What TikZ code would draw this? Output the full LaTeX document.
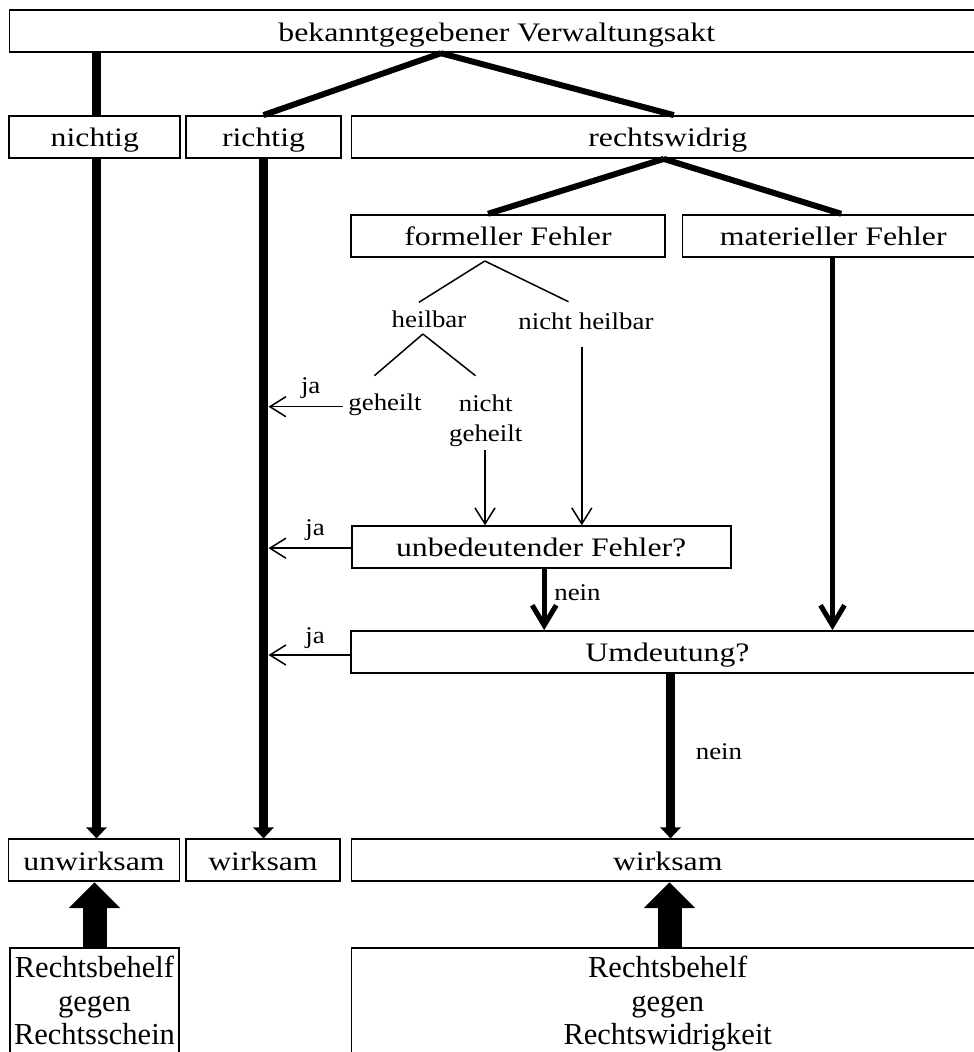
\documentclass[tikz,border=0pt]{standalone}
\usepackage{fontspec}
\setmainfont{Liberation Serif}[FakeStretch=1.19]
\newfontfamily\smallserif{Liberation Serif}[FakeStretch=1.12]
\newfontfamily\plainserif{Liberation Serif}
\usetikzlibrary{arrows.meta}
\newcommand\bigf{\fontsize{26.7}{33}\selectfont}
\newcommand\midf{\plainserif\fontsize{30.5}{33.7}\selectfont}
\newcommand\smf{\smallserif\fontsize{24}{30}\selectfont}
\begin{document}
\begin{tikzpicture}[x=1pt,y=-1pt,
  box/.style={draw, line width=1.8pt, inner sep=0pt, font=\bigf, text height=21pt, text depth=1.5pt, minimum height=42pt},
  rbox/.style={draw, line width=1.8pt, inner xsep=0pt, inner ysep=8.2pt, font=\midf, align=center, anchor=north},
  lbl/.style={font=\smf, inner sep=0pt, anchor=base},
  heavy/.style={line width=9pt, -{Triangle[width=20pt,length=11pt]}},
  bar/.style={line width=9pt},
  branch/.style={line width=6pt},
  twig/.style={line width=1.5pt},
  thinarrow/.style={line width=1.5pt, -{Straight Barb[width=20pt,length=16pt]}},
  midarrow/.style={line width=5pt, -{Straight Barb[width=24pt,length=20pt]}},
  block/.style={line width=24pt, -{Triangle[width=50pt,length=26pt]}},
]
\useasboundingbox (0,0) rectangle (974,1052);
\clip (0,0) rectangle (974,1052);

% boxes
\node[box, minimum width=974.5pt] (top) at (496.75,31.3) {bekanntgegebener Verwaltungsakt};
\node[box, minimum width=171pt] (nichtig) at (94.8,137) {nichtig};
\node[box, minimum width=155pt] (richtig) at (263.5,137) {richtig};
\node[box, minimum width=632.5pt] (rw) at (667.75,137) {rechtswidrig};
\node[box, minimum width=313.4pt] (ff) at (508,235.7) {formeller Fehler};
\node[box, minimum width=301.5pt] (mf) at (833.25,235.7) {materieller Fehler};
\node[box, minimum width=379pt] (ub) at (541.2,547.2) {unbedeutender Fehler?};
\node[box, minimum width=633pt] (ud) at (667.5,652) {Umdeutung?};
\node[box, minimum width=171pt] (unw) at (94,860.3) {unwirksam};
\node[box, minimum width=154pt] (wk1) at (263,860.3) {wirksam};
\node[box, minimum width=632.5pt] (wk2) at (667.75,860.3) {wirksam};
\node[rbox, minimum width=169pt] (rb1) at (94.5,947) {Rechtsbehelf\\gegen\\Rechtsschein\rule[-40pt]{0pt}{40pt}};
\node[rbox, minimum width=632.5pt] (rb2) at (667.75,947) {Rechtsbehelf\\gegen\\Rechtswidrigkeit\rule[-40pt]{0pt}{40pt}};

% labels
\node[lbl] (heil) at (429,327.5) {heilbar};
\node[lbl] (nh) at (585.9,329.5) {nicht heilbar};
\node[lbl] (geh) at (385,410.7) {geheilt};
\node[lbl, anchor=north, align=center] (ngh) at (485.7,394.3) {nicht\\geheilt};
\node[lbl] (ja1) at (310.7,393.3) {ja};
\node[lbl] (ja2) at (315,535) {ja};
\node[lbl] (ja3) at (315,643.3) {ja};
\node[lbl] (nein1) at (577.5,600.7) {nein};
\node[lbl] (nein2) at (719,759.3) {nein};

% helper coordinates
\coordinate (xL) at (96.5,0);
\coordinate (xR) at (263.5,0);
\coordinate (xRe) at (268.5,0);
\coordinate (a1) at ([xshift=-55.75pt]top.south);
\coordinate (a2) at ([xshift=-4pt]rw.south);
\coordinate (a3) at (484.8,261);
\coordinate (t1) at (418.9,302.3);
\coordinate (t2) at (568.5,301.7);
\coordinate (a4) at (422.9,334);
\coordinate (t3) at (374.4,375.7);
\coordinate (t4) at (475.5,375.7);
\coordinate (g0) at (342.7,406.7);
\coordinate (ng0) at (485,449.5);
\coordinate (nh0) at (581.8,346.7);

% thick connectors
\draw[bar] (xL |- top.south) -- (xL |- nichtig.north);
\draw[heavy] (xL |- nichtig.south) -- (xL |- unw.north);
\draw[heavy] (xR |- richtig.south) -- (xR |- wk1.north);
\draw[branch] (a1) -- (richtig.north);
\draw[branch] (a1) -- ([xshift=6pt]rw.north);
\draw[branch] (a2) -- ([xshift=-20pt]ff.north);
\draw[branch] (a2) -- ([xshift=8pt]mf.north);

% thin tree
\draw[twig] (a3) -- (t1);
\draw[twig] (a3) -- (t2);
\draw[twig] (a4) -- (t3);
\draw[twig] (a4) -- (t4);

% arrows
\draw[thinarrow] (g0) -- (g0 -| xRe);
\draw[thinarrow] (ng0) -- (ng0 |- ub.north);
\draw[thinarrow] (nh0) -- (nh0 |- ub.north);
\draw[thinarrow] ([yshift=-1pt]ub.west) -- ([yshift=-1pt]ub.west -| xRe);
\draw[thinarrow] ([yshift=-3pt]ud.west) -- ([yshift=-3pt]ud.west -| xRe);
\draw[midarrow] ([xshift=3pt]ub.south) -- ([xshift=3pt]ub.south |- ud.north);
\draw[midarrow] ([xshift=-0.75pt]mf.south) -- ([xshift=-0.75pt]mf.south |- ud.north);
\draw[heavy] ([xshift=3pt]ud.south) -- ([xshift=3pt]ud.south |- wk2.north);
\draw[block] (rb1.north) -- (rb1.north |- unw.south);
\draw[block] ([xshift=1.75pt]rb2.north) -- ([xshift=1.75pt]rb2.north |- wk2.south);
\end{tikzpicture}
\end{document}
